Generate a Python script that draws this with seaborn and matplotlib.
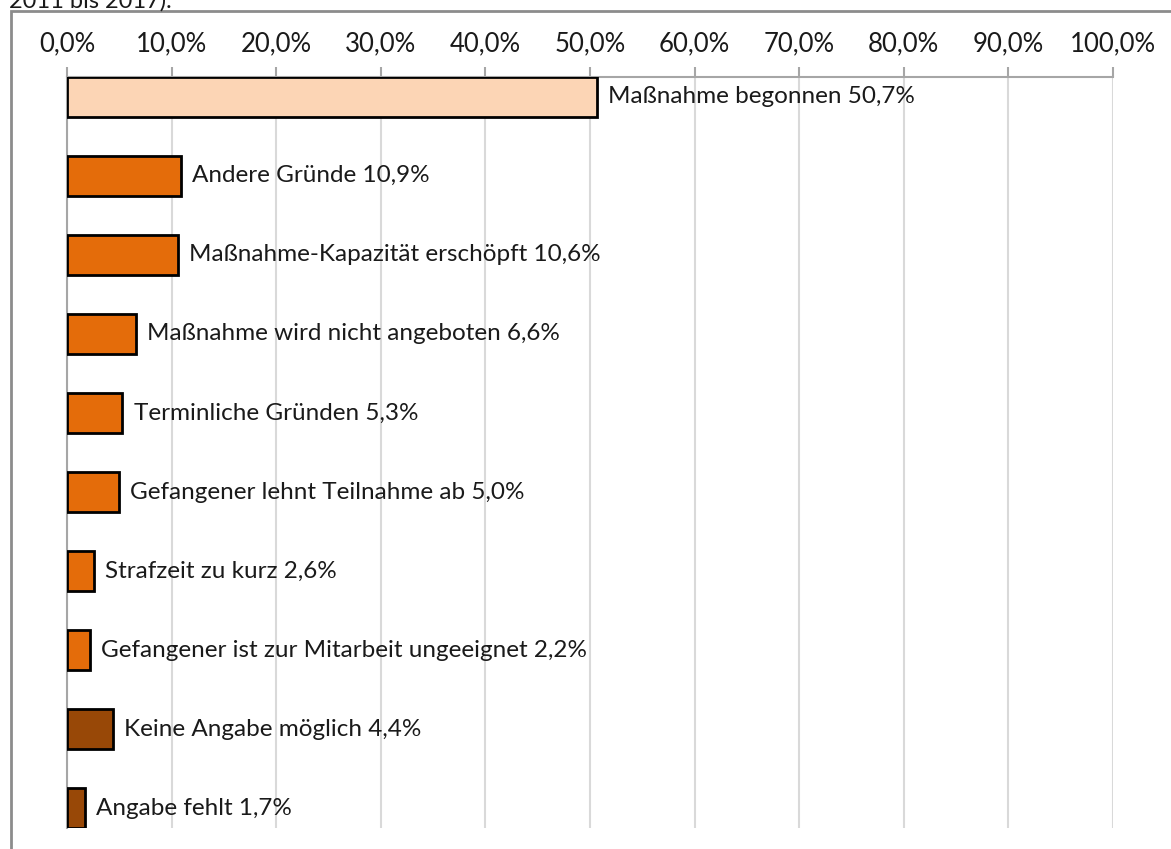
import numpy as np
import pandas as pd
import matplotlib
matplotlib.use('Agg')
import matplotlib.pyplot as plt
import matplotlib.patches as mpatches
from matplotlib.ticker import FuncFormatter, MultipleLocator
import seaborn as sns

# Daten (Anteile in %)
kategorien = [
    'Maßnahme begonnen',
    'Andere Gründe',
    'Maßnahme-Kapazität erschöpft',
    'Maßnahme wird nicht angeboten',
    'Terminliche Gründen',
    'Gefangener lehnt Teilnahme ab',
    'Strafzeit zu kurz',
    'Gefangener ist zur Mitarbeit ungeeignet',
    'Keine Angabe möglich',
    'Angabe fehlt',
]
werte = [50.7, 10.9, 10.6, 6.6, 5.3, 5.0, 2.6, 2.2, 4.4, 1.7]
farben = ['#FCD5B5'] + ['#E46C0A'] * 7 + ['#984807'] * 2

sns.set_style('white')
plt.rcParams['font.family'] = ['Lato', 'DejaVu Sans']

df = pd.DataFrame({'kategorie': kategorien, 'wert': werte})

fig = plt.figure(figsize=(11.71, 8.49), dpi=100)
ax = fig.add_axes([67 / 1171, 1 - 828 / 849, (1113 - 67) / 1171, (828 - 77) / 849])

sns.barplot(data=df, x='wert', y='kategorie', hue='kategorie', palette=farben,
            saturation=1, legend=False, edgecolor='black', linewidth=2,
            width=0.5, ax=ax, zorder=3)

ax.set_xlim(0, 100)
ax.set_ylim(9.25, -0.25)
ax.xaxis.set_major_locator(MultipleLocator(10))
ax.xaxis.set_major_formatter(FuncFormatter(lambda v, p: f'{v:.1f}%'.replace('.', ',')))
ax.xaxis.tick_top()
ax.tick_params(axis='x', direction='out', length=7, width=1.5, color='#A6A6A6',
               labelsize=18.5, labelcolor='#1a1a1a', pad=8, top=True, bottom=False)
ax.set_yticks([])
ax.set_xlabel('')
ax.set_ylabel('')
ax.grid(axis='x', color='#D9D9D9', linewidth=1.5, zorder=0)
ax.set_axisbelow(True)
for s in ['right', 'bottom']:
    ax.spines[s].set_visible(False)
for s in ['top', 'left']:
    ax.spines[s].set_color('#A6A6A6')
    ax.spines[s].set_linewidth(1.5)

# Beschriftungen rechts neben den Balken
for i, (k, w) in enumerate(zip(kategorien, werte)):
    ax.annotate(f'{k} {w:.1f}%'.replace('.', ','), xy=(w, i), xytext=(8, 0),
                textcoords='offset points', va='center', ha='left',
                fontsize=17.5, color='#1a1a1a')

# Rahmen und abgeschnittener Text oben (wie im Original nur halb sichtbar)
fig.patches.append(mpatches.Rectangle((11 / 1171, -0.05), 1.1, 1 - 11 / 849 + 0.05,
                                      transform=fig.transFigure, fill=False,
                                      edgecolor='#8C8C8C', linewidth=2))
fig.text(9 / 1171, 1 - 1 / 849, '2011 bis 2017).', fontsize=17, va='center', ha='left',
         color='#1a1a1a')

fig.savefig('out.png', dpi=100)
